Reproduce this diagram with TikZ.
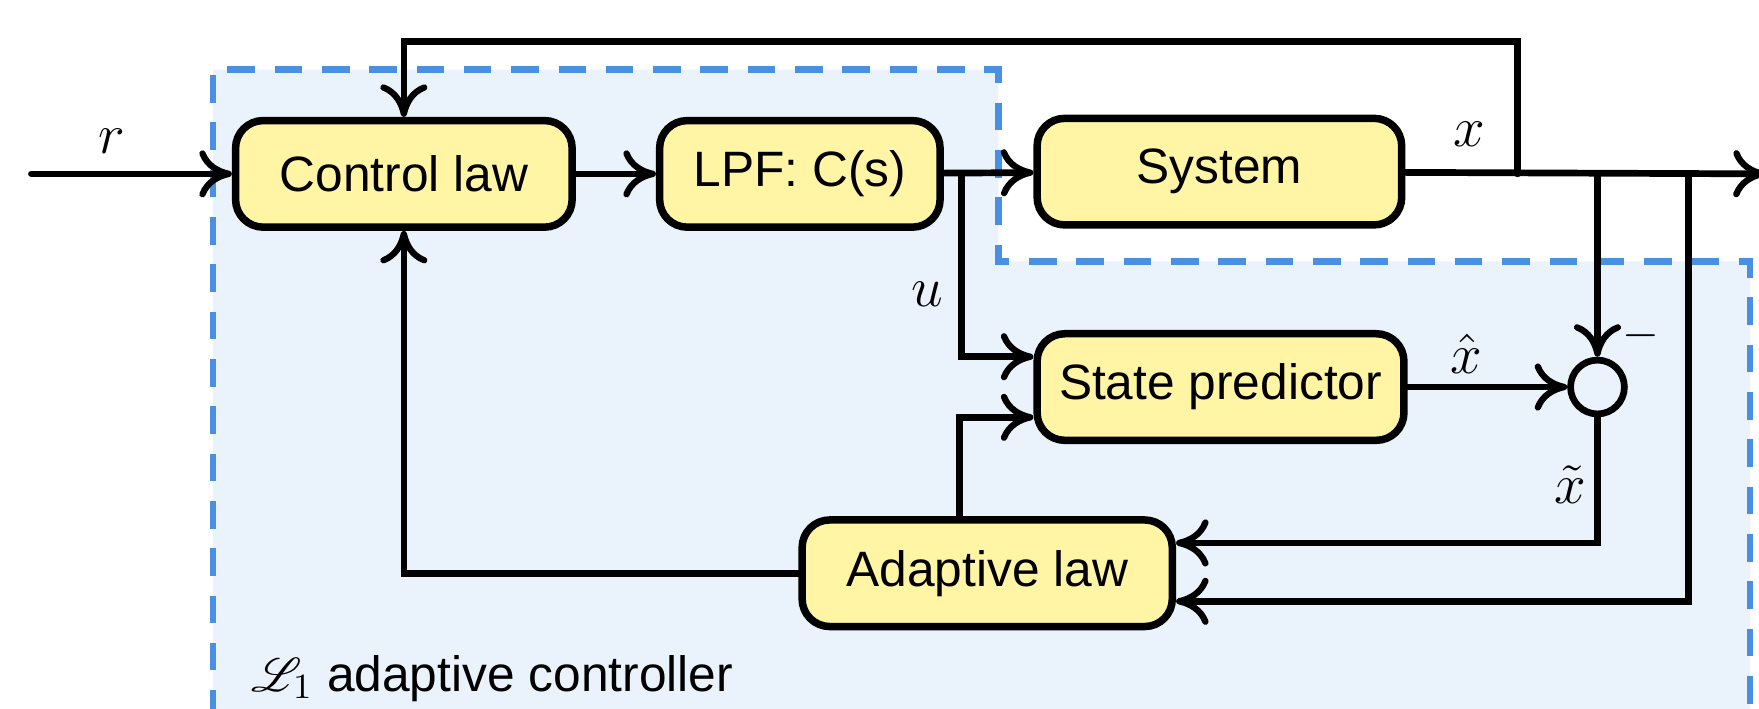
\documentclass[tikz,border=0pt]{standalone}
\usepackage{fontspec}
\setmainfont{Liberation Sans}
\usepackage{mathrsfs}
\usepackage{tikz}
\usetikzlibrary{arrows.meta, calc}
\definecolor{blockYellow}{RGB}{255,245,165}
\definecolor{regionBlue}{RGB}{234,242,252}
\definecolor{dashBlue}{RGB}{74,144,226}
\tikzset{
	blockbox/.style={draw=black, line width=1.9pt, fill=blockYellow, rounded corners=7pt, minimum height=0.95cm},
	sumnode/.style={draw=black, line width=1.7pt, circle, minimum size=0.48cm, inner sep=0pt},
	sig/.style={line width=1.7pt, -{Computer Modern Rightarrow[length=2.9mm, width=4.2mm, line width=1.6pt]}},
	siglabel/.style={font=\fontsize{15}{18}\selectfont},
}

\begin{document}
\begin{tikzpicture}[font=\fontsize{12.6}{15}\selectfont, line cap=round]
	\clip (0,0) rectangle (15.68,6.32);
	\useasboundingbox (0,0) rectangle (15.68,6.32);

	% controller region
	\filldraw[fill=regionBlue, draw=dashBlue, line width=1.6pt, line cap=butt, dash pattern=on 7pt off 5pt] (1.90,-0.5) -- (1.90,5.70) -- (8.90,5.70) -- (8.90,3.99) -- (15.60,3.99) -- (15.60,-0.5) -- cycle;

	\node[blockbox, minimum width=3.0cm] (ctrl) at (3.60,4.77) {Control law};
	\node[blockbox, minimum width=2.5cm] (lpf) at (7.13,4.77) {LPF: C(s)};
	\node[blockbox, minimum width=3.25cm] (sys) at (10.87,4.79) {System};
	\node[blockbox, minimum width=3.27cm] (pred) at (10.88,2.87) {State predictor};
	\node[blockbox, minimum width=3.3cm] (adapt) at (8.80,1.21) {Adaptive law};
	\node[sumnode] (sum) at (14.24,2.87) {};
	\node[anchor=west] (title) at (2.12,0.27) {$\mathscr{L}_1$ adaptive controller};

	\coordinate (in) at (0.28,4.77);
	\coordinate (out) at (15.74,4.77);
	\coordinate (ubx) at (8.57,4.77);
	\coordinate (fbx) at (13.53,4.77);
	\coordinate (sbx) at (14.24,4.77);
	\coordinate (abx) at (15.05,4.77);
	\coordinate (top) at (13.53,5.95);

	\draw[sig] (in) -- (ctrl);
	\draw[sig] (ctrl) -- (lpf);
	\draw[sig] (lpf) -- (sys);
	\draw[sig] (sys) -- (out);
	\draw[sig] (fbx) -- (top) -| (ctrl.north);
	\draw[sig] (sbx) -- (sum.north);
	\draw[sig] (ubx) |- ($(pred.west)+(0,0.27)$);
	\draw[sig] ($(adapt.north)+(-0.25,0)$) |- ($(pred.west)+(0,-0.27)$);
	\draw[sig] (pred) -- (sum);
	\draw[sig] (sum.south) |- ($(adapt.east)+(0,0.27)$);
	\draw[sig] (abx) |- ($(adapt.east)+(0,-0.25)$);
	\draw[sig] (adapt.west) -| (ctrl.south);

	\node[siglabel] (rlab) at (1.00,5.06) {$r$};
	\node[siglabel] (xlab) at (13.10,5.12) {$x$};
	\node[siglabel] (ulab) at (8.27,3.70) {$u$};
	\node[siglabel] (xhlab) at (13.07,3.17) {$\hat{x}$};
	\node[siglabel] (xtlab) at (14.00,2.00) {$\tilde{x}$};
	\node (minus) at (14.63,3.33) {$-$};
\end{tikzpicture}
\end{document}
